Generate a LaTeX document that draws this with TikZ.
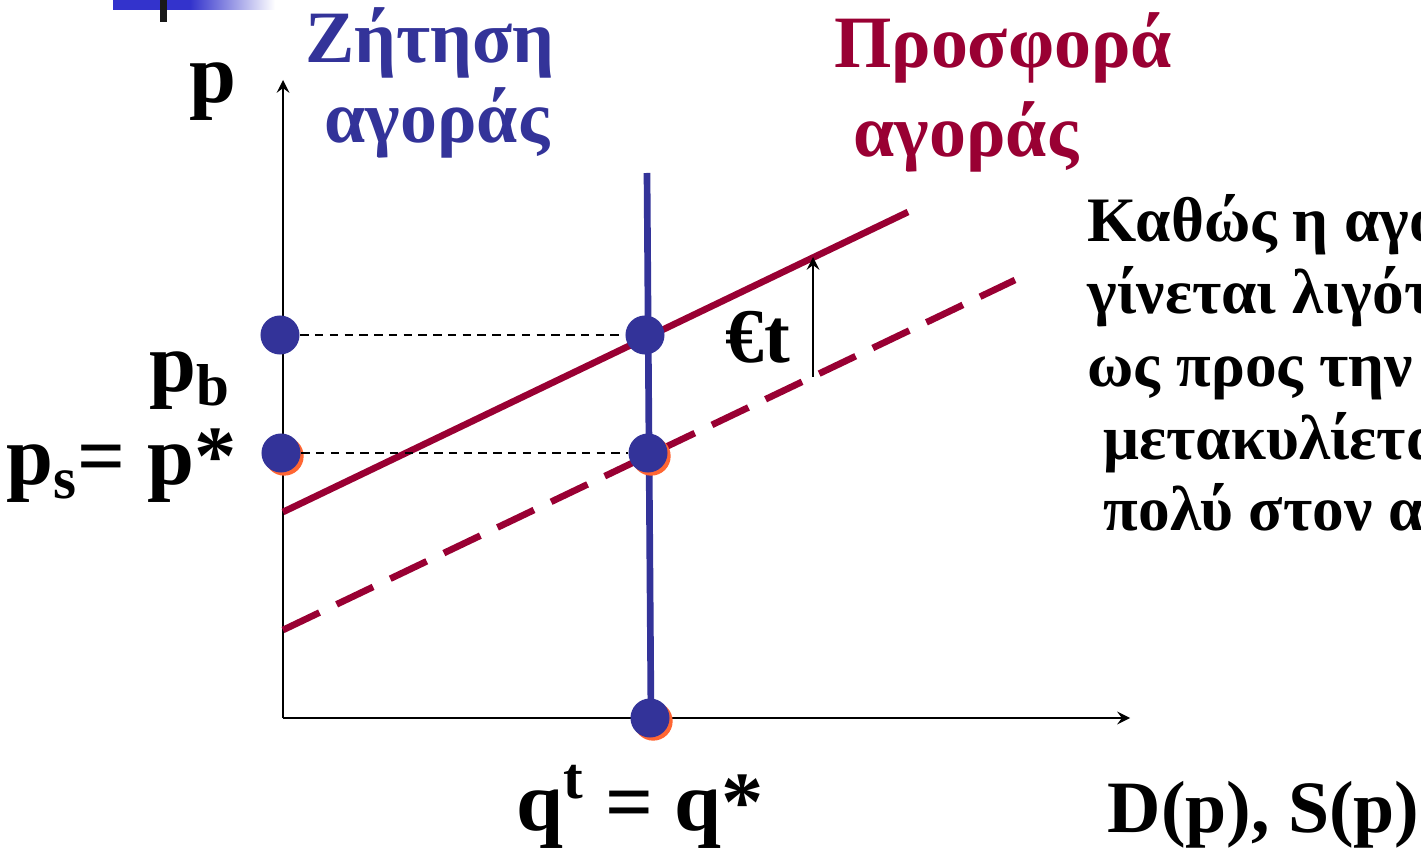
\documentclass[tikz,border=0pt]{standalone}
\usepackage{fontspec}
\setmainfont{Liberation Serif}
\definecolor{demandblue}{RGB}{51,51,153}
\definecolor{supplyred}{RGB}{153,0,51}
\definecolor{dotorange}{RGB}{255,102,51}
\definecolor{barblue}{RGB}{51,51,204}
\usetikzlibrary{positioning,arrows,shadows}

\begin{document}
\begin{tikzpicture}[x=0.01cm,y=-0.01cm,
    axis/.style={line width=0.6pt,->,>=stealth},
    guide/.style={line width=0.45pt,dash pattern=on 2.4pt off 1.8pt},
    curve/.style={line width=1.9pt},
    dot/.style={circle,fill=demandblue,minimum size=0.39cm,inner sep=0pt},
    odot/.style={dot,drop shadow={shadow xshift=0.9pt,shadow yshift=-0.9pt,fill=dotorange,opacity=1}},
    lbl/.style={font=\bfseries\fontsize{24}{28}\selectfont,inner sep=0pt},
    title/.style={font=\bfseries\fontsize{21}{24}\selectfont,inner sep=0pt},
    note/.style={font=\bfseries\fontsize{18}{20.5}\selectfont,inner sep=0pt,anchor=base west}]
    \useasboundingbox (0,0) rectangle (1421,855);
    \fill[barblue] (113,0) rectangle (192,10);
    \shade[left color=barblue,right color=white] (190,0) rectangle (275,10);
    \fill[black!90] (160,0) rectangle (167,22);

    \coordinate (O) at (283,718);
    \coordinate (ytip) at (283,80);
    \coordinate (xtip) at (1130,718);
    \draw[axis] (O) -- (ytip);
    \draw[axis] (O) -- (xtip);

    \coordinate (s0) at (283,512);
    \coordinate (s1) at (908,212);
    \coordinate (t0) at (283,630);
    \coordinate (t1) at (1015,280);
    \coordinate (d0) at (647,173);
    \coordinate (d1) at (651,718);
    \draw[curve,supplyred] (s0) -- (s1);
    \draw[curve,supplyred,dash pattern=on 11.5pt off 5.4pt] (t0) -- (t1);
    \draw[curve,demandblue] (d0) -- (d1);

    \node[dot] (pbdot) at (280,335) {};
    \node[odot] (psdot) at (281,453) {};
    \node[dot] (bdot) at (645,335) {};
    \node[odot] (sdot) at (648,453) {};
    \node[odot] (qdot) at (650,718) {};
    \draw[guide] (pbdot) -- (bdot);
    \draw[guide] (psdot) -- (sdot);

    \coordinate (tlow) at (813,377);
    \coordinate (thigh) at (813,257);
    \draw[->,>=stealth,line width=0.6pt] (tlow) -- (thigh);
    \node[lbl,font=\bfseries\fontsize{22}{26}\selectfont,anchor=base west] (tax) at (725,363) {€t};

    \node[lbl,anchor=base] (plabel) at (213,103) {p};
    \node[lbl,anchor=base east] (pblabel) at (232,392) {p\textsubscript{b}};
    \node[lbl,anchor=base east] (pslabel) at (237,485) {p\textsubscript{s}= p*};
    \node[lbl,anchor=base] (qlabel) at (640,830) {q\textsuperscript{t} = q*};
    \node[lbl,font=\bfseries\fontsize{21}{24}\selectfont,anchor=base west] (axlabel) at (1107,832) {D(p), S(p)};

    \node[title,text=demandblue,anchor=base] (dname) at (430,63) {Ζήτηση};
    \node[title,text=demandblue,anchor=base] (dmarket) at (437,143) {αγοράς};
    \node[title,text=supplyred,anchor=base] (sname) at (1003,68) {Προσφορά};
    \node[title,text=supplyred,anchor=base] (smarket) at (966,157) {αγοράς};

    \node[note] (line1) at (1087,242) {Καθώς η αγο};
    \node[note] (line2) at ([yshift=-0.71cm]line1.base west) {γίνεται λιγότ};
    \node[note] (line3) at ([yshift=-0.73cm]line2.base west) {ως προς την};
    \node[note] (line4) at ([xshift=0.16cm,yshift=-0.73cm]line3.base west) {μετακυλίετα};
    \node[note] (line5) at ([yshift=-0.71cm]line4.base west) {πολύ στον α};
\end{tikzpicture}
\end{document}
